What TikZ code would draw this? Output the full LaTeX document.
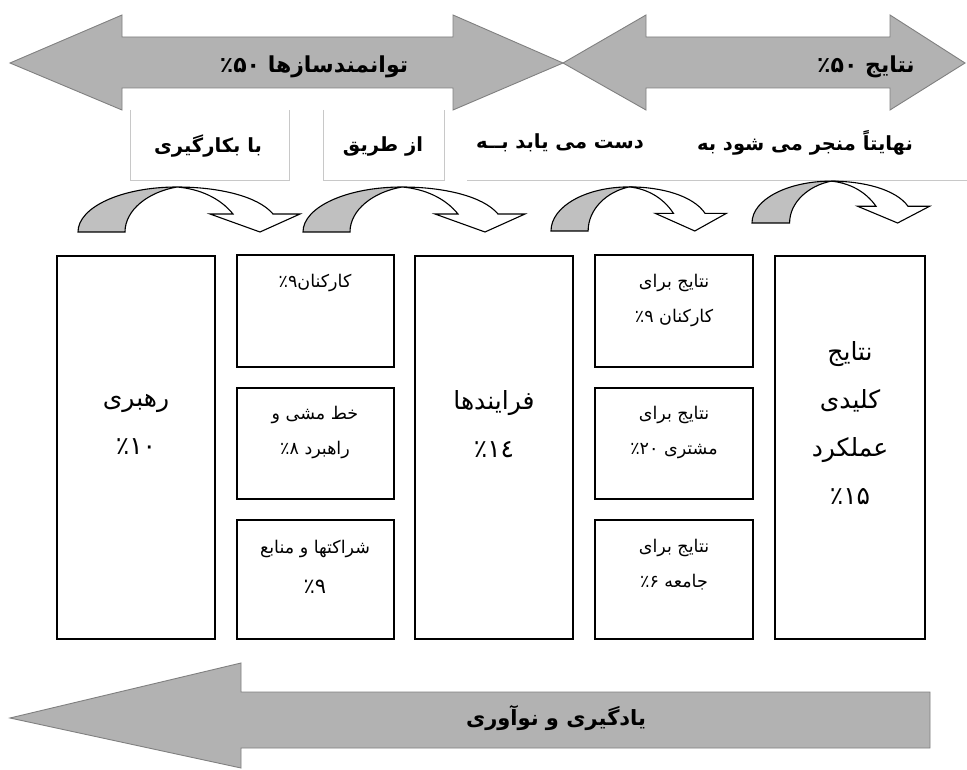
\documentclass[tikz,border=0pt]{standalone}
\usepackage{fontspec}
\TeXXeTstate=1
\newfontfamily\fafont[Script=Arabic]{DejaVu Sans}
\newcommand{\fa}[1]{{\fafont\beginR #1\endR}}
\newcommand{\pn}[1]{\beginL #1\endL}
\definecolor{arrfill}{RGB}{178,178,178}
\definecolor{arredge}{RGB}{128,128,128}
\definecolor{curvfill}{RGB}{192,192,192}
\definecolor{lblline}{RGB}{200,200,200}
\tikzset{
  bigarrow/.style={fill=arrfill, draw=arredge, line width=0.9pt, line join=miter},
  curvpart/.style={draw=black, line width=1.1pt, line join=miter},
  mainbox/.style={draw=black, line width=1.4pt, anchor=north west, inner sep=0pt, outer sep=0pt},
  lblbox/.style={draw=lblline, line width=0.8pt},
  smalltxt/.style={align=center, inner sep=0pt, font=\fontsize{17.5}{35}\selectfont},
  bigtxt/.style={align=center, inner sep=0pt, font=\fontsize{25}{48}\selectfont},
  toptxt/.style={inner sep=0pt, font=\fontsize{22}{25}\selectfont\bfseries},
  lbltxt/.style={inner sep=0pt, font=\fontsize{19.5}{22}\selectfont\bfseries},
}
\newcommand{\curvedarrow}[4]{%
  \begin{scope}[shift={(#1,#2)}, xscale=#3, yscale=#4]
    \filldraw[curvpart, fill=white] (99,-45) .. controls (140,-45) and (180,-36) .. (195,-18)
      -- (222,-18) -- (182,0) -- (132,-18) -- (155,-18)
      .. controls (142,-34) and (122,-43) .. (99,-45) -- cycle;
    \filldraw[curvpart, fill=curvfill] (0,0) .. controls (0,-25) and (44,-45) .. (99,-45)
      .. controls (70,-40) and (47,-22) .. (47,0) -- cycle;
  \end{scope}}
\begin{document}
\begin{tikzpicture}[x=1pt, y=-1pt]
\useasboundingbox (0,0) rectangle (967,770);
\fill[white] (0,0) rectangle (967,770);

% top double arrows
\draw[bigarrow] (10,63) -- (122,15) -- (122,37) -- (453,37) -- (453,15) -- (563,63)
  -- (453,110) -- (453,88) -- (122,88) -- (122,110) -- cycle;
\draw[bigarrow] (563,63) -- (646,15) -- (646,37) -- (890,37) -- (890,15) -- (965,63)
  -- (890,110) -- (890,88) -- (646,88) -- (646,110) -- cycle;
\node[toptxt] (enablers) at (314,67) {\fa{توانمندسازها \pn{٪۵۰}}};
\node[toptxt] (results) at (866,67) {\fa{نتایج \pn{٪۵۰}}};

% label row
\draw[lblbox] (130,110) -- (130,180) -- (289,180) -- (289,110);
\draw[lblbox] (323,110) -- (323,180) -- (444,180) -- (444,110);
\draw[lblbox] (467,180) -- (967,180);
\node[lbltxt] (l1) at (208,146) {\fa{با بکارگیری}};
\node[lbltxt] (l2) at (383,146) {\fa{از طریق}};
\node[lbltxt] (l3) at (560,143) {\fa{دست می یابد بــه}};
\node[lbltxt] (l4) at (805,143) {\fa{نهایتاً منجر می شود به}};

% curved arrows
\curvedarrow{78}{232}{1}{1}
\curvedarrow{303}{232}{1}{1}
\curvedarrow{551}{231}{0.79}{0.98}
\curvedarrow{752}{223}{0.8}{0.93}

% boxes
\node[mainbox, minimum width=158pt, minimum height=383pt] (lead) at (57,256) {};
\node[mainbox, minimum width=157pt, minimum height=112pt] (people) at (237,255) {};
\node[mainbox, minimum width=157pt, minimum height=111pt] (policy) at (237,388) {};
\node[mainbox, minimum width=157pt, minimum height=119pt] (partner) at (237,520) {};
\node[mainbox, minimum width=158pt, minimum height=383pt] (proc) at (415,256) {};
\node[mainbox, minimum width=158pt, minimum height=112pt] (pres) at (595,255) {};
\node[mainbox, minimum width=158pt, minimum height=111pt] (cres) at (595,388) {};
\node[mainbox, minimum width=158pt, minimum height=119pt] (sres) at (595,520) {};
\node[mainbox, minimum width=150pt, minimum height=383pt] (kres) at (775,256) {};

\node[bigtxt] (t-lead) at (136,424) {\fa{رهبری}\\\fa{\pn{٪۱۰}}};
\node[smalltxt] (t-people) at (315,283) {\fa{کارکنان\pn{٪۹}}};
\node[smalltxt] (t-policy) at (315,432) {\fa{خط مشی و}\\\fa{راهبرد \pn{٪۸}}};
\node[smalltxt, font=\fontsize{17.5}{40}\selectfont] (t-partner) at (315,567) {\fa{شراکتها و منابع}\\{\fontsize{21}{24}\selectfont\fa{\pn{٪۹}}}};
\node[bigtxt] (t-proc) at (494,424) {\fa{فرایندها}\\\fa{\pn{٪۱٤}}};
\node[smalltxt] (t-pres) at (674,300) {\fa{نتایج برای}\\\fa{کارکنان \pn{٪۹}}};
\node[smalltxt] (t-cres) at (674,432) {\fa{نتایج برای}\\\fa{مشتری \pn{٪۲۰}}};
\node[smalltxt] (t-sres) at (674,565) {\fa{نتایج برای}\\\fa{جامعه \pn{٪۶}}};
\node[bigtxt] (t-kres) at (850,423) {\fa{نتایج}\\\fa{کلیدی}\\\fa{عملکرد}\\\fa{\pn{٪۱۵}}};

% bottom arrow
\draw[bigarrow] (10,718) -- (241,663) -- (241,692) -- (930,692) -- (930,748)
  -- (241,748) -- (241,768) -- cycle;
\node[toptxt, font=\fontsize{21}{24}\selectfont\bfseries] (learn) at (556,718) {\fa{یادگیری و نوآوری}};
\end{tikzpicture}
\end{document}
